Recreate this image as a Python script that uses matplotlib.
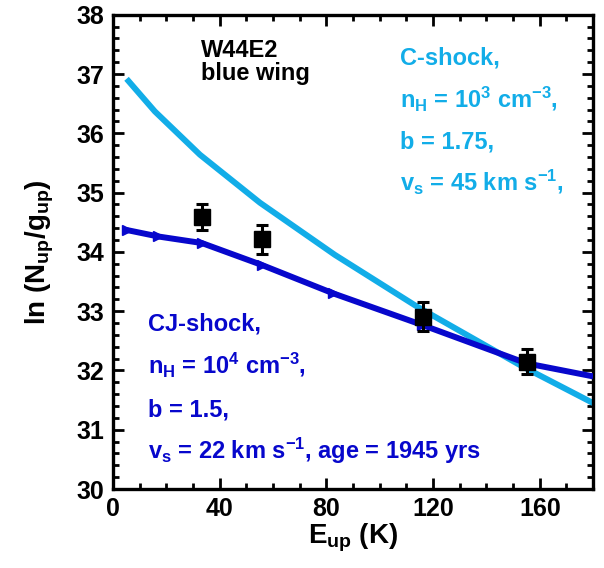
import matplotlib
matplotlib.use('Agg')
import matplotlib.pyplot as plt
from matplotlib.ticker import MultipleLocator

plt.rcParams['font.family'] = ['Liberation Sans', 'DejaVu Sans']
plt.rcParams['font.weight'] = 'bold'
plt.rcParams['axes.labelweight'] = 'bold'
plt.rcParams['mathtext.default'] = 'regular'

CYAN = '#12ade8'
DARK = '#0707cc'

# observed level populations
e_obs = [33.5, 56.0, 116.4, 155.1]
ln_obs = [34.59, 34.21, 32.91, 32.15]
ln_err = [0.22, 0.24, 0.24, 0.21]

# C-shock model (nH = 1e3, b = 1.75, vs = 45 km/s)
e_c = [5.1, 15.7, 32.6, 55.1, 83.2, 113.9, 153.8, 180.0]
ln_c = [36.92, 36.37, 35.64, 34.83, 33.95, 33.08, 32.06, 31.45]

# CJ-shock model (nH = 1e4, b = 1.5, vs = 22 km/s, age 1945 yr)
e_cj = [5.1, 17.0, 33.3, 55.8, 82.6, 115.8, 155.1, 180.0]
ln_cj = [34.37, 34.26, 34.15, 33.78, 33.30, 32.77, 32.12, 31.90]

fig = plt.figure(figsize=(6.04, 5.68), dpi=100)
ax = fig.add_axes([0.187, 0.139, 0.795, 0.835])

ax.plot(e_c, ln_c, color=CYAN, lw=4.3, solid_capstyle='butt', zorder=2)
ax.plot(e_cj, ln_cj, color=DARK, lw=4.3, marker='>', ms=7,
        markevery=list(range(len(e_cj) - 1)), solid_capstyle='butt', zorder=3)
ax.errorbar(e_obs, ln_obs, yerr=ln_err, fmt='s', color='black', ms=11,
            elinewidth=2.2, capsize=4.5, capthick=2.2, zorder=4)

ax.set_xlim(0, 180)
ax.set_ylim(30, 38)
ax.xaxis.set_major_locator(MultipleLocator(40))
ax.xaxis.set_minor_locator(MultipleLocator(10))
ax.yaxis.set_major_locator(MultipleLocator(1))
ax.yaxis.set_minor_locator(MultipleLocator(0.2))
ax.tick_params(which='both', direction='in', top=True, right=True, width=2)
ax.tick_params(which='major', length=8, labelsize=18, pad=6)
ax.tick_params(which='minor', length=4)
for sp in ax.spines.values():
    sp.set_linewidth(2.4)

ax.set_xlabel(r'E$_{up}$ (K)', fontsize=20, labelpad=0)
ax.set_ylabel(r'ln (N$_{up}$/g$_{up}$)', fontsize=20, labelpad=15)

ax.text(0.183, 0.911, 'W44E2', transform=ax.transAxes, fontsize=17,
        color='black', va='baseline')
ax.text(0.183, 0.863, 'blue wing', transform=ax.transAxes, fontsize=17,
        color='black', va='baseline')

c_lines = ['C-shock,', r'n$_H$ = 10$^3$ cm$^{-3}$,', 'b = 1.75,', r'v$_s$ = 45 km s$^{-1}$,']
for i, s in enumerate(c_lines):
    ax.text(0.597, 0.895 - i * 0.0885, s, transform=ax.transAxes,
            fontsize=17, color=CYAN, va='baseline')

cj_lines = ['CJ-shock,', r'n$_H$ = 10$^4$ cm$^{-3}$,', 'b = 1.5,',
            r'v$_s$ = 22 km s$^{-1}$, age = 1945 yrs']
for i, s in enumerate(cj_lines):
    ax.text(0.073, 0.335 - i * 0.0905, s, transform=ax.transAxes,
            fontsize=17, color=DARK, va='baseline')

fig.savefig('out.png', dpi=100)
